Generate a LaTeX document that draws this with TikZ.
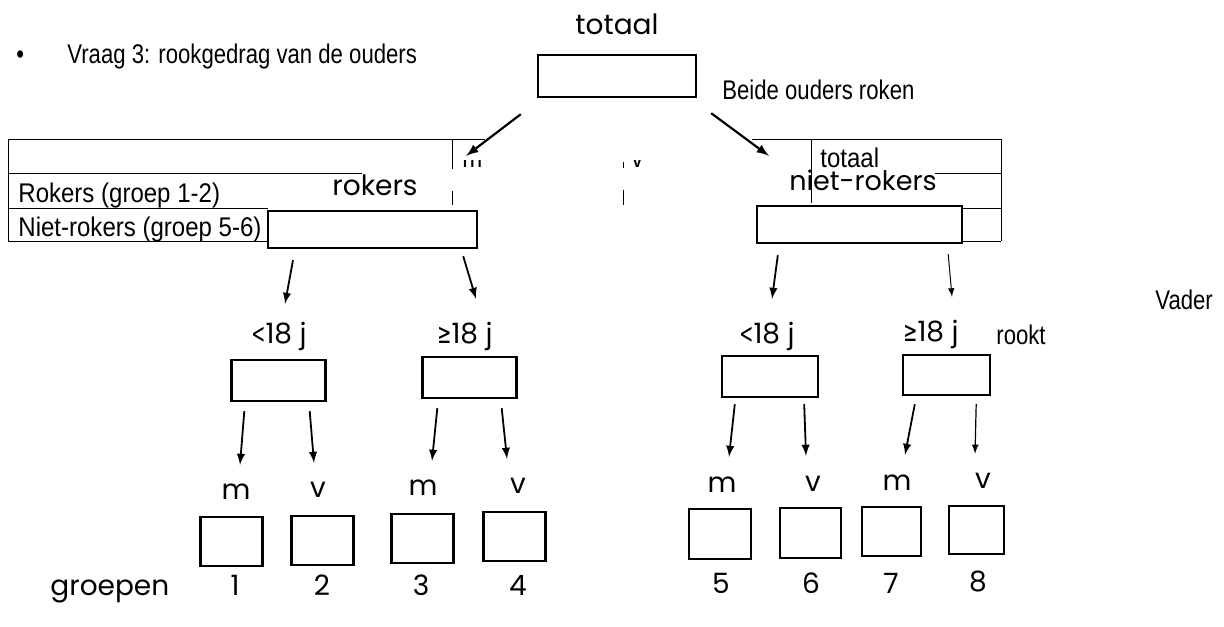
\documentclass[tikz,border=0pt]{standalone}
\usepackage{fontspec}
\setmainfont{Liberation Sans}[FakeStretch=0.82]
\newfontfamily\tabfont{Liberation Sans}[FakeStretch=0.89]
\newfontfamily\scanfont{Poppins}
\newfontfamily\symfont{DejaVu Sans}[FakeStretch=0.6]
\usepackage{tikz}
\usetikzlibrary{arrows}

\tikzset{
  box/.style={draw, line width=1.2pt, inner sep=0pt},
  mid/.style={box, minimum width=47pt, minimum height=20.5pt},
  sq/.style={box, minimum width=31pt, minimum height=24.5pt},
  arr/.style={->, >=latex, line width=0.9pt},
  scan/.style={font=\scanfont\fontsize{14pt}{16pt}\selectfont, inner sep=0pt, anchor=base},
  doc/.style={font=\fontsize{13.5pt}{15pt}\selectfont, inner sep=0pt, anchor=base west},
  tabtxt/.style={doc, font=\tabfont\fontsize{13.5pt}{15pt}\selectfont},
  tab/.style={line width=0.5pt}
}

\begin{document}
\begin{tikzpicture}[x=0.5pt, y=-0.5pt]
            \useasboundingbox (0,0) rectangle (1224,626);
            % table
            \draw[tab] (8,139) -- (485,139);
            \draw[tab] (752,139) -- (1001,139);
            \draw[tab] (8,139) -- (8,241);
            \draw[tab] (8,173) -- (362,173);
            \draw[tab] (8,208) -- (268,208);
            \draw[tab] (8,241) -- (268,241);
            \draw[tab] (452,139) -- (452,169);
            \draw[tab] (452,191) -- (452,205);
            \draw[tab] (623,162) -- (623,168);
            \draw[tab] (623,190) -- (623,205);
            \draw[tab] (811,139) -- (811,203);
            \draw[tab] (1001,139) -- (1001,241);
            \draw[tab] (935,173) -- (1001,173);
            \draw[tab] (962,208) -- (1001,208);
            \draw[tab] (962,241) -- (1001,241);
            \node[tabtxt] (rokrow)  at (18,202)  {Rokers (groep 1-2)};
            \node[tabtxt] (nrokrow) at (18,236)  {Niet-rokers (groep 5-6)};
            \node[tabtxt] (totcol)  at (820,167) {totaal};
            \begin{scope}
                \clip (455,160) rectangle (660,171);
                \node[tabtxt] (mcol) at (462,167) {m};
                \node[tabtxt] (vcol) at (631,167) {v};
            \end{scope}
            % text
            \node[doc] (bul)   at (16,64)    {•};
            \node[doc] (vraag) at (67,64)    {Vraag 3: rookgedrag van de ouders};
            \node[doc] (beide) at (722,99)   {Beide ouders roken};
            \node[doc] (vader) at (1155,309) {Vader};
            \node[doc] (rookt) at (996,344)  {rookt};
            % tree
            \node[scan] (tottxt)  at (617,35)  {totaal};
            \node[box, minimum width=79pt, minimum height=21pt] (tot) at (617,76) {};
            \node[scan] (roktxt)  at (375,195) {rokers};
            \node[box, minimum width=104.5pt, minimum height=18.5pt] (rok) at (372.5,229.5) {};
            \node[scan, font=\scanfont\fontsize{13.5pt}{16pt}\selectfont] (nroktxt) at (863,190) {niet-rokers};
            \node[box, minimum width=102.5pt, minimum height=18.5pt] (nrok) at (859.5,224.5) {};
            \node[scan] (la1) at (279,343) {{\symfont <}18 j};
            \node[scan] (la2) at (465,343) {{\symfont ≥}18 j};
            \node[scan] (ra1) at (767,343) {{\symfont <}18 j};
            \node[scan] (ra2) at (931,341) {{\symfont ≥}18 j};
            \node[mid] (lt1) at (278.5,380.5) {};
            \node[mid] (lt2) at (469.5,377.5) {};
            \node[mid, minimum width=48pt] (rt1) at (770,376.5) {};
            \node[mid, minimum width=43.5pt, minimum height=20pt] (rt2) at (946.5,375) {};
            \node[scan] (m1) at (236,499) {m};
            \node[scan] (v1) at (318,497) {v};
            \node[scan] (m2) at (423,495) {m};
            \node[scan] (v2) at (518,493) {v};
            \node[scan] (m3) at (722,492) {m};
            \node[scan] (v3) at (813,491) {v};
            \node[scan] (m4) at (897,490) {m};
            \node[scan] (v4) at (983,488) {v};
            \node[sq] (b1) at (231.5,541.5) {};
            \node[sq] (b2) at (322.5,540.5) {};
            \node[sq] (b3) at (422.5,538.5) {};
            \node[sq] (b4) at (514.5,536.5) {};
            \node[sq, minimum height=25pt] (b5) at (720,534) {};
            \node[sq, minimum width=30.5pt, minimum height=25pt] (b6) at (810.5,533) {};
            \node[sq, minimum width=29.5pt] (b7) at (891.5,531.5) {};
            \node[sq, minimum width=27.5pt, minimum height=24pt] (b8) at (976.5,530) {};
            \node[scan, anchor=base west] (groepen) at (50,595) {groepen};
            \node[scan] (n1) at (235,595) {1};
            \node[scan] (n2) at (322,595) {2};
            \node[scan] (n3) at (421,595) {3};
            \node[scan] (n4) at (518,595) {4};
            \node[scan] (n5) at (721,593) {5};
            \node[scan] (n6) at (811,593) {6};
            \node[scan] (n7) at (891,593) {7};
            \node[scan] (n8) at (978,591) {8};
            % arrows
            \draw[arr, line width=1.1pt] ([shift={(-16,16)}]tot.south west) -- ([shift={(-12,-54)}]rok.north east);
            \draw[arr, line width=1.1pt] ([shift={(14,15)}]tot.south east) -- ([shift={(13,-49)}]nrok.north west);
            \draw[arr] ([shift={(-79.5,11)}]rok.south) -- ([shift={(6.5,-55)}]lt1.north);
            \draw[arr] ([shift={(-15,7)}]rok.south east) -- ([shift={(6.5,-57)}]lt2.north);
            \draw[arr] ([shift={(22,11)}]nrok.south west) -- ([shift={(2,-56)}]rt1.north);
            \draw[arr, line width=0.5pt] ([shift={(-15,10)}]nrok.south east) -- ([shift={(5.5,-57)}]rt2.north);
            \draw[arr] ([shift={(14,9)}]lt1.south west) -- ([shift={(8.5,-51)}]b1.north);
            \draw[arr] ([shift={(-17,9)}]lt1.south east) -- ([shift={(-8.5,-52)}]b2.north);
            \draw[arr] ([shift={(16,9)}]lt2.south west) -- ([shift={(9.5,-52)}]b3.north);
            \draw[arr] ([shift={(-16,9)}]lt2.south east) -- ([shift={(-7.5,-52)}]b4.north);
            \draw[arr] ([shift={(14,6)}]rt1.south west) -- ([shift={(9,-51)}]b5.north);
            \draw[arr] ([shift={(-15,6)}]rt1.south east) -- ([shift={(-4.5,-51)}]b6.north);
            \draw[arr] ([shift={(13,8)}]rt2.south west) -- ([shift={(13.5,-51)}]b7.north);
            \draw[arr, line width=0.6pt] ([shift={(-15,8)}]rt2.south east) -- ([shift={(-1.5,-51)}]b8.north);
\end{tikzpicture}
\end{document}
